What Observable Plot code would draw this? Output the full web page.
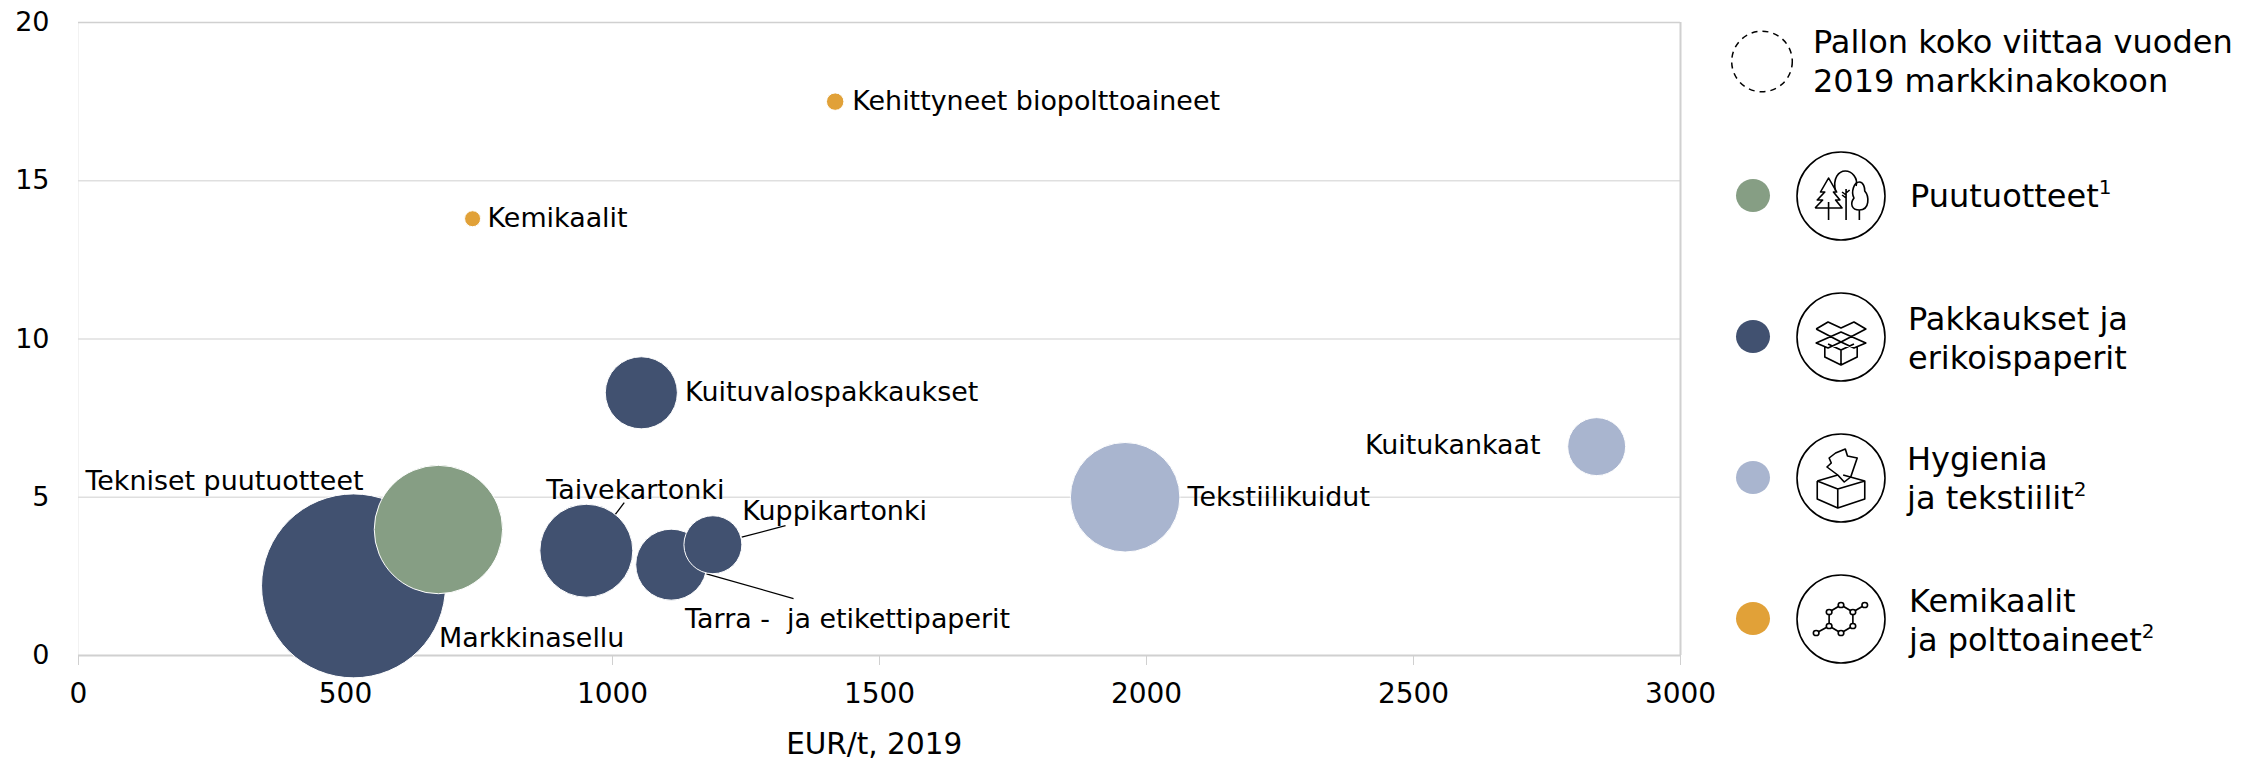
<!DOCTYPE html>
<html><head><meta charset="utf-8">
<script src="https://cdn.jsdelivr.net/npm/d3@7"></script>
<script src="https://cdn.jsdelivr.net/npm/@observablehq/plot@0.6"></script>
<style>
html,body{margin:0;padding:0;background:#fff;width:2264px;height:759px;overflow:hidden;font-family:"DejaVu Sans",sans-serif;color:#000}
#wrap{position:relative;width:2264px;height:759px}
#chart{position:absolute;left:0;top:0}
#chart svg{overflow:visible;background:transparent}
.lg{position:absolute;font-size:32px;line-height:39px;white-space:nowrap}
.lg sup{font-size:20px;line-height:0;vertical-align:baseline;position:relative;top:-13px}
.dot{position:absolute;width:34px;height:33px;border-radius:50%}
svg.ic{position:absolute;overflow:visible}
</style></head><body>
<div id="wrap"><div id="chart"></div></div>
<script>
const names=["Markkinasellu","Tekniset puutuotteet","Taivekartonki","Tarra -\u00A0 ja etikettipaperit","Kuppikartonki","Kuituvalospakkaukset","Tekstiilikuidut","Kuitukankaat","Kemikaalit","Kehittyneet biopolttoaineet"];
const price=[515,674,951,1110,1188,1054,1960,2843,738,1417];
const growth=[2.2,3.98,3.31,2.87,3.5,8.3,5,6.6,13.8,17.5];
const marketSize=[42.3,20.6,10.8,6.3,4.2,6.5,15,4.2,0.32,0.38];
const groups=["Pakkaukset","Puutuotteet","Pakkaukset","Pakkaukset","Pakkaukset","Pakkaukset","Hygienia","Hygienia","Kemikaalit","Kemikaalit"];
const groupNames=["Puutuotteet","Pakkaukset","Hygienia","Kemikaalit"];
const groupColors=["#869e84","#415170","#a9b5cf","#e1a138"];
const labelX=[675,13,876,1136,1243,1136,2077,2738,766,1449];
const labelY=[0.55,5.5,5.22,1.15,4.55,8.3,5,6.63,13.8,17.5];
const labelAnchor=["start","start","start","start","start","start","start","end","start","start"];
const leaderX1=[1005,1242,1176];
const leaderY1=[4.45,3.74,2.58];
const leaderX2=[1022,1324,1339];
const leaderY2=[4.83,4.1,1.8];
const xTicks=[0,500,1000,1500,2000,2500,3000];
const yTicks=[0,5,10,15,20];
const rows=names.map((n,i)=>({n,x:price[i],y:growth[i],s:marketSize[i],g:groups[i],lx:labelX[i],ly:labelY[i],a:labelAnchor[i]}));
const leaders=leaderX1.map((d,i)=>({x1:d,y1:leaderY1[i],x2:leaderX2[i],y2:leaderY2[i]}));
const FS=26.9;
const plot=Plot.plot({
  width:1700,height:759,marginLeft:78,marginRight:20,marginTop:22,marginBottom:104,
  style:{fontFamily:'"DejaVu Sans",sans-serif',fontSize:FS+"px",background:"transparent",color:"#000",overflow:"visible"},
  x:{domain:[0,3000],ticks:xTicks},
  y:{domain:[0,20],ticks:yTicks},
  r:{type:"sqrt",domain:[0,100],range:[0,141.4]},
  color:{domain:groupNames,range:groupColors},
  marks:[
    Plot.ruleX([0],{stroke:"#f2f2f2",strokeWidth:1}),
    Plot.gridY([5,10,15],{stroke:"#dfdfdf",strokeOpacity:1,strokeWidth:1.5}),
    Plot.ruleY([20],{stroke:"#d0d0d0",strokeWidth:1.5}),
    Plot.ruleX([3000],{stroke:"#d0d0d0",strokeWidth:2}),
    Plot.ruleY([0],{stroke:"#d0d0d0",strokeWidth:2}),
    Plot.axisX({ticks:xTicks,tickSize:10,tickPadding:18,stroke:"#d0d0d0",fill:"#000",fontSize:28,label:null,tickFormat:d=>String(d)}),
    Plot.axisY({ticks:yTicks,tickSize:0,tickPadding:29,fill:"#000",fontSize:27,label:null,tickFormat:d=>String(d)}),
    Plot.link(leaders,{x1:"x1",y1:"y1",x2:"x2",y2:"y2",stroke:"#000",strokeWidth:1.3}),
    Plot.dot(rows,{x:"x",y:"y",r:"s",fill:"g",stroke:"#fff",strokeWidth:1,sort:{channel:"r",order:"descending"}}),
    Plot.text(rows,{x:"lx",y:"ly",text:"n",textAnchor:"start",filter:d=>d.a==="start",fill:"#000",fontSize:FS,stroke:"none"}),
    Plot.text(rows,{x:"lx",y:"ly",text:"n",textAnchor:"end",filter:d=>d.a==="end",fill:"#000",fontSize:FS,stroke:"none"}),
    Plot.text(["EUR/t, 2019"],{text:d=>d,x:[1490],y:[0],dy:89,fill:"#000",fontSize:29.5})
  ]
});
document.getElementById("chart").appendChild(plot);

const wrap=document.getElementById("wrap");
function add(html){const t=document.createElement("div");t.innerHTML=html;while(t.firstChild)wrap.appendChild(t.firstChild);}
const legendItems=[
 {c:groupColors[0],y:195.7,txt:'Puutuotteet<sup>1</sup>',tx:1910,ty:177,icon:'trees'},
 {c:groupColors[1],y:336.7,txt:'Pakkaukset ja<br>erikoispaperit',tx:1908,ty:300,icon:'box'},
 {c:groupColors[2],y:477.7,txt:'Hygienia<br>ja tekstiilit<sup>2</sup>',tx:1907,ty:440,icon:'tissue'},
 {c:groupColors[3],y:618.7,txt:'Kemikaalit<br>ja polttoaineet<sup>2</sup>',tx:1909,ty:582,icon:'mol'}
];
const icons={
 trees:'<path d="M-11.5 24V6M-24 12L-17 4H-22L-15 -4H-19L-11.5 -18L-4 -4H-7L-1 4H-5L1 12H-24" fill="none"/><path d="M4.7 24V-7M-5 -5C-8 -18 -2 -25 4 -25C10 -25 16 -18 14 -10M4.7 2L1 -1M4.7 -1L1 -4M4.7 -3L8 -6" fill="none"/><path d="M17 24V14M17 14C10 14 8 8 12 2C9 -4 12 -14 17 -14C21 -14 22 -8 22 -5C26 0 27 14 17 14Z" fill="none"/>',
 box:'<path d="M0 -5L-23 6L-12 11L0 5L12 11L23 6ZM-15 10V20L0 28L15 20V10M0 13V28M0 13L-12 7M0 13L12 7M-23 -8L-12 -15L0 -9L12 -15L23 -8L0 5L-23 -8" fill="none"/>',
 tissue:'<path d="M-22 3L-3 -3M-22 3L-3 11L22 3L2 -3M-22 3V21L-3 30L22 21V3M-3 11V30" fill="none"/><path d="M-3 -3L-13 -11L-9 -15L-11 -20L-5 -25L4 -29L6 -22L15 -20L9 -1L3 4Z" fill="none"/>',
 mol:'<g fill="#fff"><path d="M-11-7v14L0 14 11 7V-7L0-14zM-23 14l12-7M22-14L11-7" fill="none"/><circle cx="0" cy="-14" r="2.6"/><circle cx="-11" cy="-7" r="2.6"/><circle cx="11" cy="-7" r="2.6"/><circle cx="-11" cy="7" r="2.6"/><circle cx="11" cy="7" r="2.6"/><circle cx="0" cy="14" r="2.6"/><circle cx="-23" cy="14" r="2.6"/><circle cx="22" cy="-14" r="2.6"/></g>'
};
add('<svg class="ic" style="left:1731px;top:31px" width="62" height="62"><circle cx="31" cy="30.5" r="30.3" fill="none" stroke="#000" stroke-width="1.5" stroke-dasharray="6 5"/></svg>');
add('<div class="lg" style="left:1813px;top:23px">Pallon koko viittaa vuoden<br>2019 markkinakokoon</div>');
legendItems.forEach(d=>{
  add(`<div class="dot" style="left:1736px;top:${d.y-16.5}px;background:${d.c}"></div>`);
  add(`<svg class="ic" style="left:1796px;top:${d.y-45}px" width="90" height="90" viewBox="-45 -45 90 90"><circle r="44" fill="#fff" stroke="#000" stroke-width="1.6"/><g transform="scale(1.08,1)" stroke="#000" stroke-width="1.5" stroke-linejoin="round">${icons[d.icon]}</g></svg>`);
  add(`<div class="lg" style="left:${d.tx}px;top:${d.ty}px">${d.txt}</div>`);
});
</script></body></html>
